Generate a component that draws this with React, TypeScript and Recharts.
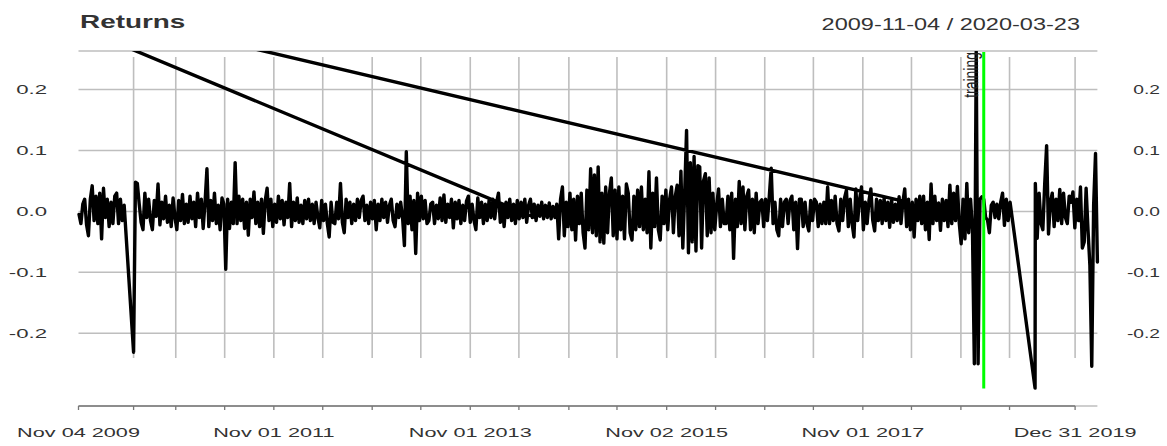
import { LineChart, Line, XAxis, YAxis, CartesianGrid, ReferenceLine } from 'recharts';

// x values are days since 2009-11-04, one sample per week
const ORIGIN = Date.UTC(2009, 10, 4);
const toDay = (iso: string) => Math.round((Date.parse(iso) - ORIGIN) / 86400000);
const STEP = 7;

const tickDates = [
  '2009-11-04', '2010-05-28', '2010-11-01', '2011-05-02', '2011-11-01', '2012-05-01', '2012-11-01',
  '2013-05-01', '2013-11-01', '2014-05-01', '2014-11-03', '2015-05-01', '2015-11-02', '2016-05-02',
  '2016-11-01', '2017-05-01', '2017-11-01', '2018-05-01', '2018-11-01', '2019-05-01', '2019-12-31',
];
const labelDates = ['2009-11-04', '2011-11-01', '2013-11-01', '2015-11-02', '2017-11-01', '2019-12-31'];
const yTicks = [-0.2, -0.1, 0, 0.1, 0.2];
const trainingDate = '2019-01-25';

// Nov 2009 - Apr 2010 (starts day 2)
const retNov2009 = [
  -0.005, -0.02, 0.012, 0.02, -0.022, -0.04, 0.02, 0.042, -0.015, 0.025,
  -0.02, 0.03, -0.045, 0.038, -0.01, 0.02, -0.025, 0.015, -0.02, 0.025,
  0.03, -0.02, 0.02, -0.015, 0.01,
];
// after the gap (starts day 205)
const retMay2010 = [-0.231, 0.048, 0.046];
const ret2010 = [
  0.012, -0.018, -0.03, 0.03, -0.01, 0.02, -0.015, -0.03, 0.018, -0.008,
  0.045, -0.022, 0.015, -0.012, 0.025, -0.018, 0.01, -0.025, 0.022, -0.01,
  -0.03, 0.018, -0.015, 0.028, -0.02, 0.012, -0.018, 0.025, -0.012, 0.015,
  -0.025, 0.03, -0.01, 0.02, -0.028, 0.015, 0.07, -0.025, 0.018, -0.015,
  0.03, -0.02, 0.01, -0.03, 0.022, 0.012, -0.095, 0.02, -0.028, 0.015,
  -0.02, 0.08,
];
const ret2011 = [
  -0.02, 0.025, -0.015, 0.02, -0.028, 0.015, -0.039, 0.02, -0.01, 0.032,
  -0.02, 0.015, -0.025, 0.02, -0.036, 0.018, 0.038, -0.015, 0.02, -0.025,
  0.012, -0.018, 0.025, -0.012, 0.018, -0.022, 0.015, -0.01, 0.046, -0.025,
  0.015, -0.015, 0.022, -0.018, 0.01, -0.02, 0.018, -0.012, 0.02, -0.015,
  0.012, -0.02, 0.015, -0.01, -0.027, 0.018, -0.015, 0.012, -0.02, -0.042,
  0.015, -0.018,
];
const ret2012 = [
  -0.02, 0.015, -0.012, 0.046, -0.018, -0.035, 0.02, -0.01, 0.015, -0.02,
  0.012, -0.015, 0.02, -0.01, 0.018, 0.025, -0.015, 0.01, -0.02, 0.015,
  -0.012, 0.018, -0.03, 0.012, -0.015, 0.02, -0.01, 0.015, -0.018, 0.01,
  0.02, -0.015, -0.025, 0.012, -0.01, 0.015, -0.01, -0.056, 0.098, -0.02,
  0.025, -0.03, 0.018, -0.069, 0.03, -0.015, 0.025, -0.012, 0.018, -0.02,
  -0.015, 0.012,
];
const ret2013 = [
  0.015, -0.02, 0.01, -0.012, 0.022, -0.015, 0.027, -0.018, 0.012, -0.01,
  0.02, -0.027, 0.015, -0.012, 0.018, -0.02, 0.01, -0.015, 0.017, 0.025,
  -0.018, 0.012, -0.015, -0.03, 0.022, -0.01, 0.015, -0.02, 0.012, -0.015,
  0.018, -0.01, 0.02, -0.012, 0.015, 0.03, -0.018, 0.012, -0.025, 0.015,
  -0.01, 0.02, -0.015, 0.012, -0.02, 0.018, -0.012, 0.015, -0.01, 0.02,
  -0.018, 0.01,
];
const ret2014 = [
  0.02, -0.01, 0.012, -0.015, 0.01, -0.008, 0.015, -0.012, 0.01, -0.01,
  0.014, -0.012, 0.008, -0.01, 0.012, -0.045, 0.02, 0.04, -0.04, 0.015,
  -0.025, 0.03, -0.03, 0.02, -0.047, 0.025, -0.02, 0.03, -0.035, -0.06,
  0.035, -0.03, 0.07, -0.035, 0.06, -0.04, 0.073, -0.05, 0.03, -0.052,
  0.04, -0.035, 0.03, 0.055, -0.04, 0.035, -0.045, 0.04, -0.03, 0.025,
  -0.045, 0.045,
];
const ret2015 = [
  0.03, -0.035, -0.047, 0.025, -0.03, 0.035, -0.025, 0.04, -0.03, 0.02,
  -0.035, 0.065, -0.06, 0.03, -0.025, 0.055, -0.03, -0.047, 0.025, -0.02,
  0.035, -0.03, 0.02, 0.04, -0.035, 0.025, 0.043, -0.04, 0.066, -0.06,
  0.03, 0.133, -0.068, 0.08, -0.05, 0.09, -0.065, 0.075, 0.073, -0.06,
  0.05, 0.062, -0.04, 0.055, -0.035, 0.03, -0.03, 0.01, 0.037, -0.025,
  0.02, -0.02,
];
const ret2016 = [
  -0.02, 0.025, -0.03, 0.03, -0.077, 0.02, -0.025, 0.049, -0.02, 0.04,
  -0.03, 0.025, 0.035, -0.03, 0.02, -0.035, 0.03, -0.02, 0.015, 0.019,
  -0.025, 0.02, -0.015, 0.025, 0.071, -0.02, 0.015, -0.03, -0.04, 0.02,
  -0.025, 0.015, 0.02, -0.02, 0.018, 0.025, -0.03, 0.015, -0.061, 0.02,
  0.02, -0.025, 0.015, -0.02, -0.032, 0.018, -0.015, 0.02, 0.015, -0.025,
  0.012, -0.02,
];
const ret2017 = [
  0.015, -0.02, 0.04, -0.02, 0.018, -0.015, 0.025, -0.02, -0.032, 0.02,
  -0.015, 0.022, 0.035, -0.025, 0.02, -0.02, -0.042, 0.037, -0.015, 0.02,
  0.04, -0.03, 0.015, -0.02, 0.018, 0.037, -0.015, -0.032, 0.02, -0.015,
  0.018, -0.02, 0.022, -0.015, 0.015, -0.026, 0.02, -0.018, 0.012, -0.015,
  0.024, -0.02, 0.015, 0.037, -0.025, 0.02, -0.03, 0.015, -0.042, 0.02,
  -0.015, 0.025,
];
const ret2018 = [
  -0.02, 0.025, -0.03, 0.015, -0.046, 0.045, -0.02, 0.025, -0.015, 0.014,
  -0.031, 0.02, -0.015, 0.018, -0.025, 0.043, -0.02, 0.03, -0.015, 0.041,
  -0.02, -0.053, 0.02, -0.045, 0.046, -0.035, 0.02, -0.03, -0.25, 0.262,
  -0.25, 0.02, 0.024, 0.02, -0.01, -0.014, -0.035, 0.01, 0.015, -0.01,
  0.012, -0.012, 0.015, 0.03, -0.023, 0.02, -0.015, 0.015,
];
// single low point after the second gap
const gapLowDay = 3560;
const gapLowValue = -0.29;
// from day 3561 to the end
const ret2019 = [
  0.046, -0.044, 0.03, -0.02, -0.03, 0.046, 0.108, -0.037, 0.015, 0.03,
  -0.025, 0.02, -0.015, 0.036, -0.02, 0.03, -0.01, -0.02, 0.025, 0.015,
  0.032, -0.027, 0.02, -0.015, 0.04, -0.06, -0.05, 0.038, -0.03, -0.088,
  -0.254, 0.01, 0.095, -0.083,
];
// out-of-order rows that draw the two long diagonals
const strayDays = [177, 1699, 623, 3076];
const strayValues = [0.27, -0.01, 0.27, 0.016];

type Pt = { d: number; r: number | null };
const points: Pt[] = [];
const pushRun = (start: number, values: number[]) =>
  values.forEach((r, i) => points.push({ d: start + STEP * i, r }));

pushRun(2, retNov2009);
pushRun(205, [...retMay2010, ...ret2010, ...ret2011, ...ret2012, ...ret2013, ...ret2014, ...ret2015, ...ret2016, ...ret2017, ...ret2018]);
points.push({ d: gapLowDay, r: gapLowValue });
pushRun(3561, ret2019);
points.push({ d: 3792, r: null });
points.push({ d: strayDays[0], r: strayValues[0] });
points.push({ d: strayDays[1], r: strayValues[1] });
points.push({ d: strayDays[1], r: null });
points.push({ d: strayDays[2], r: strayValues[2] });
points.push({ d: strayDays[3], r: strayValues[3] });

const tickDays = tickDates.map(toDay);
const labelDays = labelDates.map(toDay);
const trainingDay = toDay(trainingDate);

const FONT = '"Liberation Sans", Arial, sans-serif';
const MONTHS = ['Jan', 'Feb', 'Mar', 'Apr', 'May', 'Jun', 'Jul', 'Aug', 'Sep', 'Oct', 'Nov', 'Dec'];
const fmtDate = (iso: string) => {
  const [y, m, d] = iso.split('-');
  return `${MONTHS[Number(m) - 1]} ${d} ${y}`;
};

const XTick = ({ x, y, payload }: any) => {
  const idx = labelDays.indexOf(payload.value);
  if (idx < 0) return null;
  return (
    <text transform={`translate(${x},${y + 25}) scale(1.72,1)`} textAnchor="middle"
      fontFamily={FONT} fontSize={12.6} fill="#333">
      {fmtDate(labelDates[idx])}
    </text>
  );
};

const YTick = ({ y, payload }: any) => {
  const label = Number(payload.value).toFixed(1);
  return (
    <g fontFamily={FONT} fontSize={12} fill="#333">
      <text transform={`translate(47,${y + 4.5}) scale(1.85,1)`} textAnchor="end">{label}</text>
      <text transform={`translate(1160,${y + 4.5}) scale(1.6,1)`} textAnchor="end">{label}</text>
    </g>
  );
};

const TrainingLabel = ({ viewBox }: any) => (
  <text transform={`translate(${viewBox.x - 6},${viewBox.y}) scale(1.45,1) rotate(-90)`}
    textAnchor="end" fontFamily={FONT} fontSize={14} fill="#222">
    training
  </text>
);

const Y_MIN = -0.3193;
const Y_MAX = 0.2632;

export default function App() {
  return (
    <div style={{ position: 'absolute', left: 0, top: 0, width: 1167, height: 446, background: '#fff' }}>
      <LineChart width={1167} height={446} data={points}
        margin={{ top: 51, right: 69.6, bottom: 0, left: 0 }}>
        <CartesianGrid vertical={false} stroke="#BEBEBE" strokeWidth={1.5} />
        <XAxis dataKey="d" type="number" domain={[0, 3792]} ticks={tickDays} interval={0}
          height={40} tickSize={4} axisLine={false}
          tickLine={{ stroke: '#777', strokeWidth: 1.3 }} tick={<XTick />} />
        <YAxis type="number" domain={[Y_MIN, Y_MAX]} ticks={yTicks} allowDataOverflow
          width={78.5} tickSize={0} axisLine={false} tickLine={false} tick={<YTick />} />
        {tickDays.slice(1).map((d) => (
          <ReferenceLine key={d} zIndex={-50} stroke="#BEBEBE" strokeWidth={1.6}
            segment={[{ x: d, y: 0.2533 }, { x: d, y: -0.2405 }]} />
        ))}
        <ReferenceLine stroke="#777" strokeWidth={1.3} ifOverflow="visible"
          segment={[{ x: tickDays[0], y: Y_MIN }, { x: tickDays[tickDays.length - 1], y: Y_MIN }]} />
        <Line dataKey="r" type="linear" stroke="#000" strokeWidth={3.4} dot={false}
          strokeLinejoin="round" strokeLinecap="round" connectNulls={false}
          isAnimationActive={false} />
        <ReferenceLine zIndex={1000} stroke="#00FF00" strokeWidth={3}
          segment={[{ x: trainingDay, y: 0.2616 }, { x: trainingDay, y: -0.2904 }]}
          label={<TrainingLabel />} />
      </LineChart>
      <svg width={1167} height={446} style={{ position: 'absolute', left: 0, top: 0, pointerEvents: 'none' }}>
        <text transform="translate(80,28) scale(1.55,1)" fontFamily={FONT} fontSize={18}
          fontWeight="bold" fill="#333">Returns</text>
        <text transform="translate(1080,30) scale(1.47,1)" textAnchor="end" fontFamily={FONT}
          fontSize={16} fill="#333">2009-11-04 / 2020-03-23</text>
      </svg>
    </div>
  );
}
